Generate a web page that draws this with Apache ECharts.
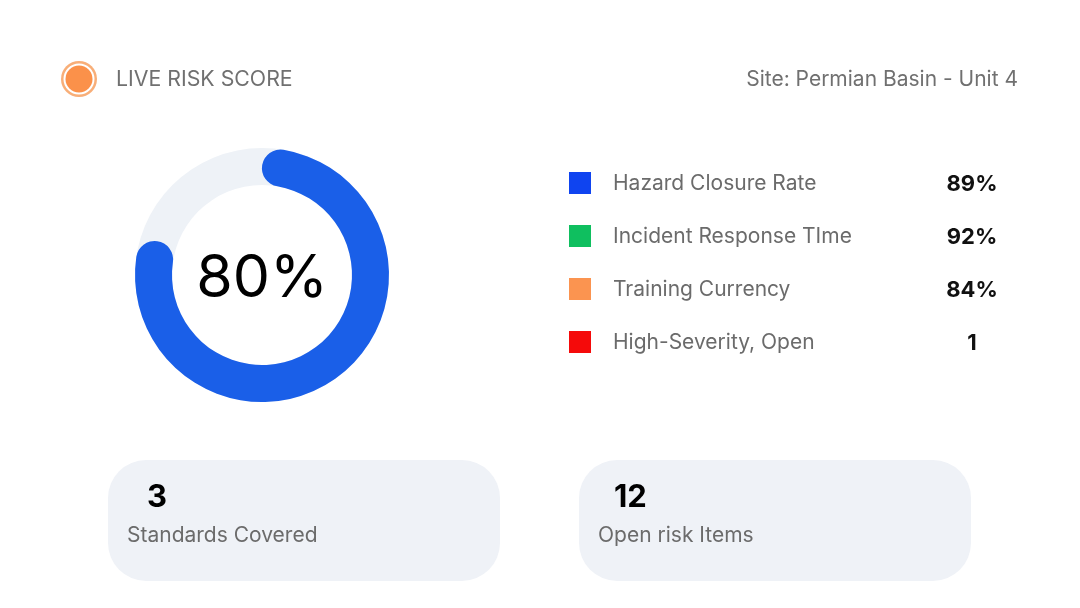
<!DOCTYPE html>
<html><head><meta charset="utf-8">
<script src="https://cdn.jsdelivr.net/npm/echarts@6/dist/echarts.min.js"></script>
<style>html,body{margin:0;padding:0;background:#fff}#c{width:1080px;height:608px}</style>
</head><body><div id="c"></div>
<script>
const title = 'LIVE RISK SCORE';
const siteLabel = 'Site: Permian Basin - Unit 4';
const riskScore = 80;
const metricNames = ['Hazard Closure Rate', 'Incident Response TIme', 'Training Currency', 'High-Severity, Open'];
const metricValues = ['89%', '92%', '84%', '1'];
const metricColors = ['#0f44f0', '#0fbf5f', '#fb9450', '#f50a0a'];
const cardValues = ['3', '12'];
const cardLabels = ['Standards Covered', 'Open risk Items'];

const FONT = 'Inter, "Noto Sans", sans-serif';
const chart = echarts.init(document.getElementById('c'));

const graphics = [];
// header
graphics.push({type:'circle', shape:{cx:79, cy:79, r:18}, style:{fill:'#f8ae78'}});
graphics.push({type:'circle', shape:{cx:79, cy:79, r:15.5}, style:{fill:'#ffffff'}});
graphics.push({type:'circle', shape:{cx:79, cy:79, r:13.5}, style:{fill:'#fb914a'}});
graphics.push({type:'text', x:116, y:80, style:{text:title, fill:'#707070', font:'400 21.3px ' + FONT, textVerticalAlign:'middle'}});
graphics.push({type:'text', x:1018, y:80, style:{text:siteLabel, fill:'#707070', font:'400 21px ' + FONT, textAlign:'right', textVerticalAlign:'middle'}});
// metric list
metricNames.forEach((n, i) => {
  const y = 183 + i * 53;
  graphics.push({type:'rect', shape:{x:569, y:y - 11, width:22, height:22}, style:{fill:metricColors[i]}});
  graphics.push({type:'text', x:613, y:y + 1, style:{text:n, fill:'#6b6b6b', font:'400 21px ' + FONT, textVerticalAlign:'middle'}});
  graphics.push({type:'text', x:972, y:y + 1, style:{text:metricValues[i], fill:'#111', font:'700 22px ' + FONT, textAlign:'center', textVerticalAlign:'middle'}});
});
// cards
const cardX = [108, 579];
cardValues.forEach((v, i) => {
  const x = cardX[i];
  graphics.push({type:'rect', shape:{x:x, y:460, width:392, height:121, r:38}, style:{fill:'#eff2f7'}});
  graphics.push({type:'text', x:x + 39 + (i === 1 ? -4 : 0), y:498, style:{text:v, fill:'#000', font:'700 31px ' + FONT, textVerticalAlign:'middle'}});
  graphics.push({type:'text', x:x + 19, y:536, style:{text:cardLabels[i], fill:'#6b6b6b', font:'400 21px ' + FONT, textVerticalAlign:'middle'}});
});

// ring geometry: keep round caps inside the 0..100% sweep
const R = 127, W = 37;
const capDeg = (W / 2) / (R - W / 2) * 180 / Math.PI;
const startA = 90 - capDeg;
const sweepForValue = riskScore / 100 * 360 - 2 * capDeg;
const endA = startA - sweepForValue * 100 / riskScore;

chart.setOption({
  animation:false,
  backgroundColor:'#ffffff',
  graphic:graphics,
  series:[{
    type:'pie',
    center:[262, 275],
    radius:[R - W, R],
    silent:true,
    label:{show:false},
    itemStyle:{color:'#eef2f7'},
    data:[{value:100}]
  },{
    type:'gauge',
    center:[262, 275],
    radius:R,
    startAngle:startA,
    endAngle:endA,
    min:0, max:100,
    pointer:{show:false},
    progress:{show:true, width:W, roundCap:true, itemStyle:{color:'#1a5fe8'}},
    axisLine:{show:false, lineStyle:{width:W}},
    axisTick:{show:false}, splitLine:{show:false}, axisLabel:{show:false},
    title:{show:false},
    detail:{show:true, offsetCenter:[0, 4], valueAnimation:false, formatter:'{value}%', fontSize:59, fontWeight:400, color:'#000', fontFamily:FONT},
    data:[{value:riskScore}]
  }]
});
</script></body></html>
